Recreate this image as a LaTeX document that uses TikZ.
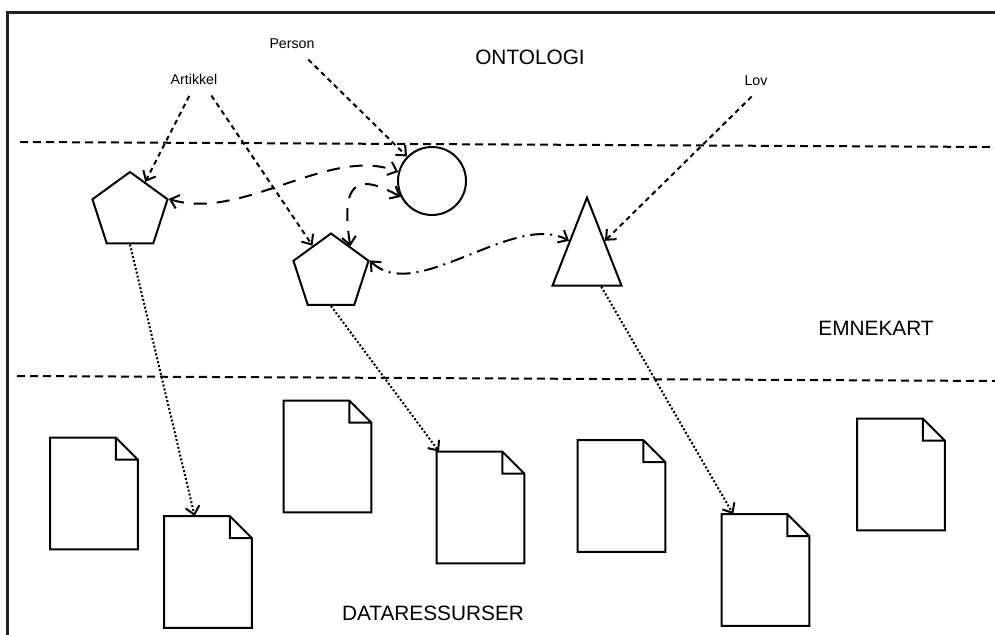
\documentclass[tikz,border=0pt]{standalone}
\usepackage{fontspec}
\setmainfont{Liberation Sans}
\usetikzlibrary{shapes.geometric, arrows.meta, calc}
\definecolor{framegray}{RGB}{35,35,35}

\begin{document}
\begin{tikzpicture}[
    x=0.5pt, y=-0.5pt,
    >={Straight Barb[length=4pt,width=7pt]},
    topic/.style={regular polygon, regular polygon sides=5, draw, line width=1pt, minimum size=39.5pt, inner sep=0pt},
    persontopic/.style={circle, draw, line width=1pt, minimum size=34pt, inner sep=0pt},
    lawtopic/.style={isosceles triangle, shape border rotate=90, isosceles triangle stretches, draw, line width=1pt, minimum width=34.5pt, minimum height=44pt, inner sep=0pt},
    doc/.style={rectangle, minimum width=43.5pt, minimum height=55.5pt, inner sep=0pt},
    docline/.style={line width=1pt},
    title/.style={font=\fontsize{10.4}{12}\selectfont},
    typelabel/.style={font=\fontsize{7.1}{8.5}\selectfont, inner sep=3pt},
    layer/.style={line width=1pt, dash pattern=on 4pt off 2.5pt},
    link/.style={->, line width=1pt, dash pattern=on 2.5pt off 2pt, shorten <=3pt},
    assoc/.style={<->, line width=1pt, dash pattern=on 6.5pt off 5pt},
    assocdot/.style={<->, line width=1pt, dash pattern=on 7pt off 3pt on 1pt off 3pt},
    occ/.style={->, line width=1pt, dash pattern=on 1pt off 1pt}
]
    \useasboundingbox (0,0) rectangle (995,635);
    \draw[framegray, line width=1.5pt] (7,700) -- (7,13) -- (1050,13);

    % layers
    \draw[layer] (20,142) -- (995,147);
    \draw[layer] (17,376) -- (995,381);
    \node[title] (ontologi) at (530,57) {ONTOLOGI};
    \node[title] (emnekart) at (876,328) {EMNEKART};
    \node[title] (dataressurser) at (433,613) {DATARESSURSER};

    % ontology types
    \node[typelabel] (person) at (292,44) {Person};
    \node[typelabel] (artikkel) at (194,79) {Artikkel};
    \node[typelabel] (lov) at (756,81) {Lov};

    % topics
    \node[topic] (a1) at (130,211.5) {};
    \node[topic] (a2) at (331,273) {};
    \node[persontopic] (pers) at (432,181) {};
    \node[lawtopic, anchor=apex] (law) at (587,195) {};

    % documents
    \foreach \n/\x/\y in {1/94/493.5, 2/208/572, 3/327.5/456.5, 4/480.5/507.5,
                          5/621.5/496, 6/765.5/570, 7/901/474.5}
        \node[doc] (d\n) at (\x,\y) {};
    \foreach \n in {1,...,7}
        \draw[docline] (d\n.south west) -- (d\n.north west) -- ([xshift=-11pt]d\n.north east)
            -- ([yshift=-11pt]d\n.north east) -- (d\n.south east) -- cycle
            ([xshift=-11pt]d\n.north east) |- ([yshift=-11pt]d\n.north east);

    % instance-of
    \draw[link] ([xshift=-1pt]artikkel.south) -- (a1);
    \draw[link] ([xshift=7pt]artikkel.south) -- (a2);
    \draw[link] ([xshift=6pt]person.south) -- (pers);
    \draw[link] (lov.south) -- (law.right side);

    % associations
    \draw[assoc] (a1.corner 5) .. controls +(73,23) and +(-68,-27) .. (pers.165);
    \draw[assoc] (a2.side 5) .. controls +(-12,-75) and +(-35,-19) .. (pers.207);
    \draw[assocdot] (a2.corner 5) .. controls +(45,45) and +(-55,-30) .. (law.left side);

    % occurrences
    \draw[occ] (a1.side 3) -- (d2);
    \draw[occ] (a2.side 3) -- (d4);
    \draw[occ] (law) -- (d6);
\end{tikzpicture}
\end{document}
